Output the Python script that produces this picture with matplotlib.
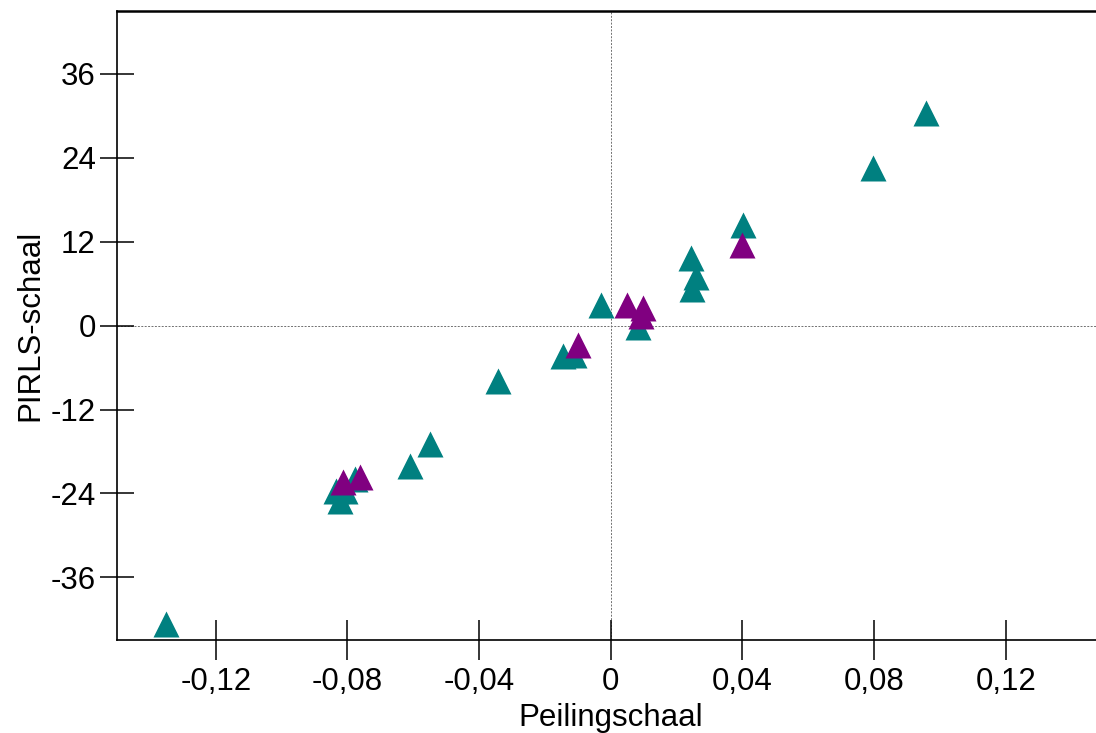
import matplotlib
matplotlib.use("Agg")
import matplotlib.pyplot as plt

plt.rcParams['font.family'] = ['Liberation Sans', 'DejaVu Sans']

# teal series
teal_x = [-0.1352, 0.0957, 0.0797, 0.0402, 0.0245, 0.0258, 0.0248, -0.0030,
          0.0084, -0.0146, -0.0113, -0.0344, -0.0550, -0.0609, -0.0778,
          -0.0836, -0.0806, -0.0823]
teal_y = [-42.7, 30.4, 22.5, 14.4, 9.7, 6.9, 5.2, 3.0,
          -0.2, -4.3, -4.2, -7.9, -16.9, -20.1, -22.0,
          -23.7, -23.7, -25.1]

# purple series
purple_x = [-0.0100, 0.0049, 0.0097, 0.0093, 0.0398, -0.0813, -0.0761]
purple_y = [-2.7, 3.0, 2.5, 1.4, 11.5, -22.3, -21.7]

x_ticks = [-0.12, -0.08, -0.04, 0, 0.04, 0.08, 0.12]
x_labels = ['-0,12', '-0,08', '-0,04', '0', '0,04', '0,08', '0,12']
y_ticks = [-36, -24, -12, 0, 12, 24, 36]
y_labels = ['-36', '-24', '-12', '0', '12', '24', '36']

fig = plt.figure(figsize=(10.96, 7.33), dpi=100)
ax = fig.add_axes([0.1068, 0.1265, 0.9010, 0.8585])

ax.axhline(0, color='#707070', lw=0.7, ls=(0, (2, 1.5)), zorder=1)
ax.axvline(0, color='#707070', lw=0.7, ls=(0, (2, 1.5)), zorder=1)

ms = 18.7
ax.plot(teal_x, teal_y, ls='none', marker='^', ms=ms, color='#008080',
        mec='none', zorder=3)
ax.plot(purple_x, purple_y, ls='none', marker='^', ms=ms, color='#800080',
        mec='none', zorder=4)

ax.set_xlim(-0.15, 0.15)
ax.set_ylim(-45, 45)
ax.set_xticks(x_ticks)
ax.set_xticklabels(x_labels)
ax.set_yticks(y_ticks)
ax.set_yticklabels(y_labels)

ax.tick_params(axis='x', direction='inout', length=28.8, width=1.1,
               labelsize=22.5, pad=5)
ax.tick_params(axis='y', direction='inout', length=24.5, width=1.1,
               labelsize=22.5, pad=3)

for s in ax.spines.values():
    s.set_linewidth(1.2)
ax.spines['top'].set_linewidth(1.8)

ax.set_xlabel('Peilingschaal', fontsize=22.5, labelpad=4)
ax.set_ylabel('PIRLS-schaal', fontsize=22.5, labelpad=4)

fig.savefig('out.png', dpi=100)
